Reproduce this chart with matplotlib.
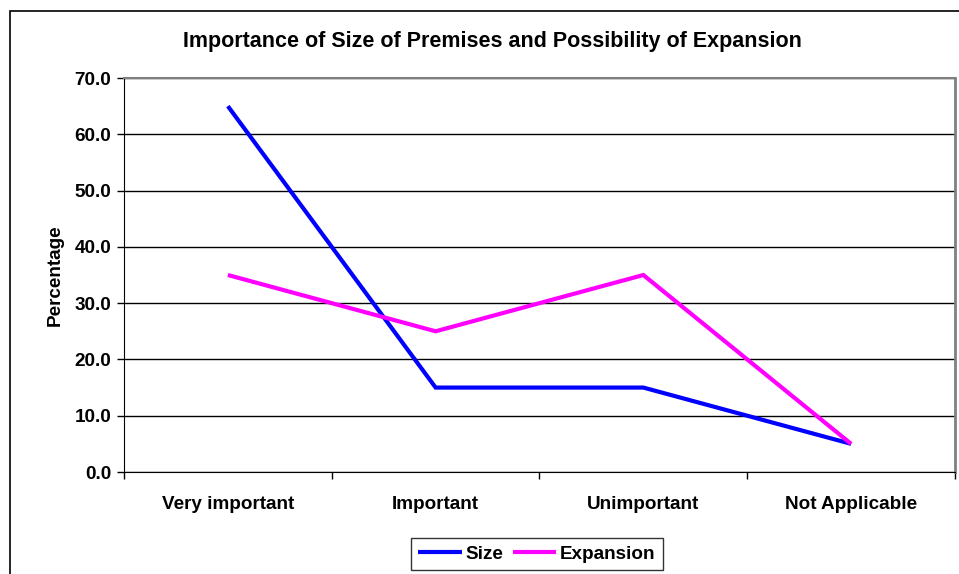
# line chart: importance of size of premises and possibility of expansion
import matplotlib

matplotlib.use('Agg')
import matplotlib.pyplot as plt
from matplotlib.patches import Rectangle

plt.rcParams['font.family'] = ['Liberation Sans', 'DejaVu Sans']

# data
categories = ['Very important', 'Important', 'Unimportant', 'Not Applicable']
size_values = [65.0, 15.0, 15.0, 5.0]
expansion_values = [35.0, 25.0, 35.0, 5.0]
y_ticks = [0, 10, 20, 30, 40, 50, 60, 70]

fig = plt.figure(figsize=(9.59, 5.74), dpi=100, facecolor='w')
ax = fig.add_axes([0.1293, 0.1777, 0.8665, 0.6864])

# outer chart border (runs off the right and bottom edge)
fig.patches.append(Rectangle((10 / 959, -0.05), 1.0, 1 - 11 / 574 + 0.05,
                             transform=fig.transFigure, fill=False,
                             edgecolor='black', linewidth=1.2, clip_on=False))

x = list(range(len(categories)))
ax.plot(x, size_values, color='#0000FF', linewidth=3, label='Size',
        solid_capstyle='butt', solid_joinstyle='miter')
ax.plot(x, expansion_values, color='#FF00FF', linewidth=3, label='Expansion',
        solid_capstyle='butt', solid_joinstyle='miter')

ax.set_xlim(-0.5, len(categories) - 0.5)
ax.set_ylim(0, 70)

ax.set_yticks(y_ticks)
ax.set_yticklabels([f'{v:.1f}' for v in y_ticks], fontsize=13.6, fontweight='bold')
ax.yaxis.grid(True, color='#000000', linewidth=1)
ax.set_axisbelow(True)

# category labels between the boundary ticks
ax.set_xticks([i - 0.5 for i in range(len(categories) + 1)])
ax.set_xticklabels([])
ax.set_xticks(x, minor=True)
ax.set_xticklabels(categories, minor=True, fontsize=13.6, fontweight='bold')
ax.tick_params(axis='x', which='minor', length=0, pad=17)
ax.tick_params(axis='both', which='major', direction='out', length=5, width=1)
ax.tick_params(axis='y', pad=4)

ax.spines['left'].set_color('black')
ax.spines['bottom'].set_color('black')
ax.spines['top'].set_color('#808080')
ax.spines['right'].set_color('#808080')
ax.spines['right'].set_linewidth(2)
ax.spines['top'].set_linewidth(1.5)

ax.set_ylabel('Percentage', fontsize=13.6, fontweight='bold', labelpad=8)
fig.text(0.513, 0.928, 'Importance of Size of Premises and Possibility of Expansion',
         ha='center', va='center', fontsize=15.5, fontweight='bold')

leg = ax.legend(loc='center', bbox_to_anchor=(537 / 959, 1 - 554 / 574),
                bbox_transform=fig.transFigure, ncol=2, frameon=True,
                prop={'weight': 'bold', 'size': 13.6}, handlelength=2.3,
                handletextpad=0.2, columnspacing=0.5, borderpad=0.4,
                borderaxespad=0, fancybox=False, edgecolor='black')
leg.get_frame().set_linewidth(1)

fig.savefig('out.png', dpi=100, facecolor='w')
